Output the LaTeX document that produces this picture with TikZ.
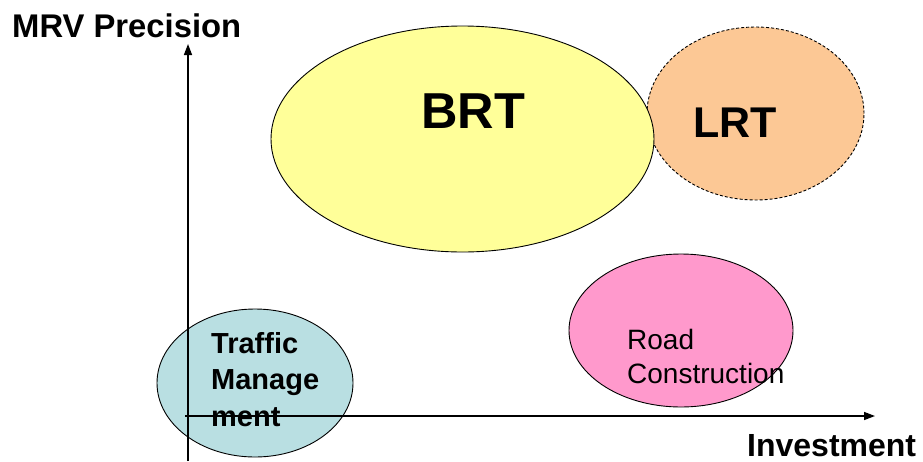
\documentclass[tikz,border=0pt]{standalone}
\usepackage{fontspec}
\setmainfont{Liberation Sans}
\usetikzlibrary{arrows.meta,shapes.geometric}
\definecolor{brtyellow}{HTML}{FFFF99}
\definecolor{lrtorange}{HTML}{FCC895}
\definecolor{roadpink}{HTML}{FF99CC}
\definecolor{trafficblue}{HTML}{B9DFE2}
\tikzset{blob/.style={draw,ellipse,inner sep=0pt,line width=0.9pt},
  axis/.style={line width=1.4pt,-{Triangle[length=11pt,width=8pt]}}}
\newcommand{\labfont}[2]{\fontsize{#1}{#2}\selectfont}

\begin{document}
\begin{tikzpicture}[x=1pt,y=-1pt]
\useasboundingbox (0,0) rectangle (923,461);
% bubbles
\node[blob,fill=lrtorange,dash pattern=on 3pt off 2pt,minimum width=217pt,minimum height=173pt] (lrt) at (755.5,113.5) {};
\node[blob,fill=brtyellow,minimum width=383pt,minimum height=226pt] (brt) at (462.5,139) {};
\node[blob,fill=roadpink,minimum width=224pt,minimum height=153pt] (road) at (681,330.5) {};
\node[blob,fill=trafficblue,minimum width=196pt,minimum height=148pt] (traffic) at (255,383) {};
% axes
\coordinate (ybot) at (188,461);
\coordinate (ytop) at (188,44);
\coordinate (xleft) at (185,416);
\coordinate (xright) at (875,416);
\draw[axis] (ybot) -- (ytop);
\draw[axis] (xleft) -- (xright);
% labels (base = last line)
\node[anchor=base west,inner sep=0pt,font=\labfont{32.8}{32.8}\bfseries] (ylab) at (12,37) {MRV Precision};
\node[anchor=base west,inner sep=0pt,font=\labfont{32}{32}\bfseries] (xlab) at (747,456) {Investment};
\node[anchor=base west,inner sep=0pt,font=\labfont{50.5}{50.5}\bfseries] (brtlab) at (421,128) {BRT};
\node[anchor=base west,inner sep=0pt,font=\labfont{43}{43}\bfseries] (lrtlab) at (693,137) {LRT};
\node[anchor=base west,inner sep=0pt,align=left,font=\labfont{28}{34}] (roadlab) at (627,383) {Road\\Construction};
\node[anchor=base west,inner sep=0pt,align=left,font=\labfont{29}{36.5}\bfseries] (traflab) at (211,426) {Traffic\\Manage\\ment};
\end{tikzpicture}
\end{document}
